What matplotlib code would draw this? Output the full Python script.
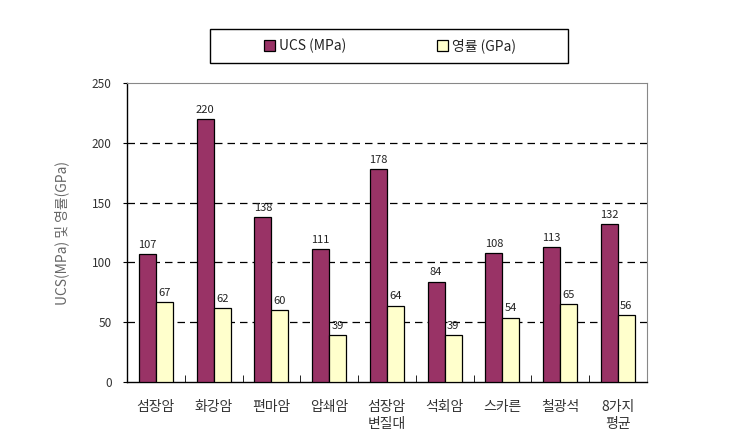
import numpy as np
from matplotlib import pyplot as plt
from matplotlib.patches import Rectangle

plt.rcParams['font.family'] = ['Noto Sans CJK KR', 'DejaVu Sans']

categories = ['섬장암', '화강암', '편마암', '압쇄암', '섬장암\n변질대', '석회암', '스카른', '철광석', '8가지\n평균']
ucs = [107, 220, 138, 111, 178, 84, 108, 113, 132]
young = [67, 62, 60, 39, 64, 39, 54, 65, 56]
series_names = ['UCS (MPa)', '영률 (GPa)']
y_ticks = [0, 50, 100, 150, 200, 250]

fig = plt.figure(figsize=(7.3, 4.48), dpi=100)
ax = fig.add_axes([0.174, 0.147, 0.712, 0.668])

x = np.arange(len(categories))
w = 0.294
b1 = ax.bar(x - w / 2, ucs, w, color='#993366', edgecolor='black', linewidth=0.9,
            label=series_names[0], zorder=3)
b2 = ax.bar(x + w / 2, young, w, color='#FFFFCC', edgecolor='black', linewidth=0.9,
            label=series_names[1], zorder=3)

for bars, vals in [(b1, ucs), (b2, young)]:
    for r, v in zip(bars, vals):
        ax.annotate(str(v), (r.get_x() + r.get_width() / 2, v), xytext=(0, 3),
                    textcoords='offset points', ha='center', va='bottom',
                    fontsize=8, color='#222222', zorder=4)

ax.set_xlim(-0.5, len(categories) - 0.5)
ax.set_ylim(0, 250)
ax.set_yticks(y_ticks)
ax.set_yticklabels([str(t) for t in y_ticks], fontsize=8.5, color='#333333')
for t in y_ticks[1:-1]:
    ax.axhline(t, color='black', linestyle=(0, (6, 4)), linewidth=0.9, zorder=1)

ax.set_xticks(x)
ax.set_xticklabels(categories, fontsize=10, color='#333333', linespacing=1.3)
ax.set_xticks(np.arange(len(categories) + 1) - 0.5, minor=True)
ax.tick_params(axis='x', which='major', length=0, pad=13)
ax.tick_params(axis='x', which='minor', length=5, direction='in', color='black')
ax.tick_params(axis='y', length=3, direction='out', pad=8)

ax.spines['top'].set_color('#888888')
ax.spines['right'].set_color('#888888')
ax.spines['left'].set_linewidth(1.0)
ax.spines['bottom'].set_linewidth(1.0)

ax.set_ylabel('UCS(MPa) 및 영률(GPa)', fontsize=10, color='#666666', labelpad=16)

# legend box drawn separately so the entries sit in the middle of each half
fig.patches.append(Rectangle((0.288, 0.859), 0.49, 0.076, transform=fig.transFigure,
                             fill=False, edgecolor='black', linewidth=1.0))
leg = fig.legend(handles=[b1, b2], loc='center', ncol=2,
                 bbox_to_anchor=(0.534, 0.897), frameon=False,
                 fontsize=10, handlelength=0.8, handleheight=0.8,
                 handletextpad=0.3, columnspacing=6.5)
for t in leg.get_texts():
    t.set_color('#222222')

fig.savefig('out.png', dpi=100)
